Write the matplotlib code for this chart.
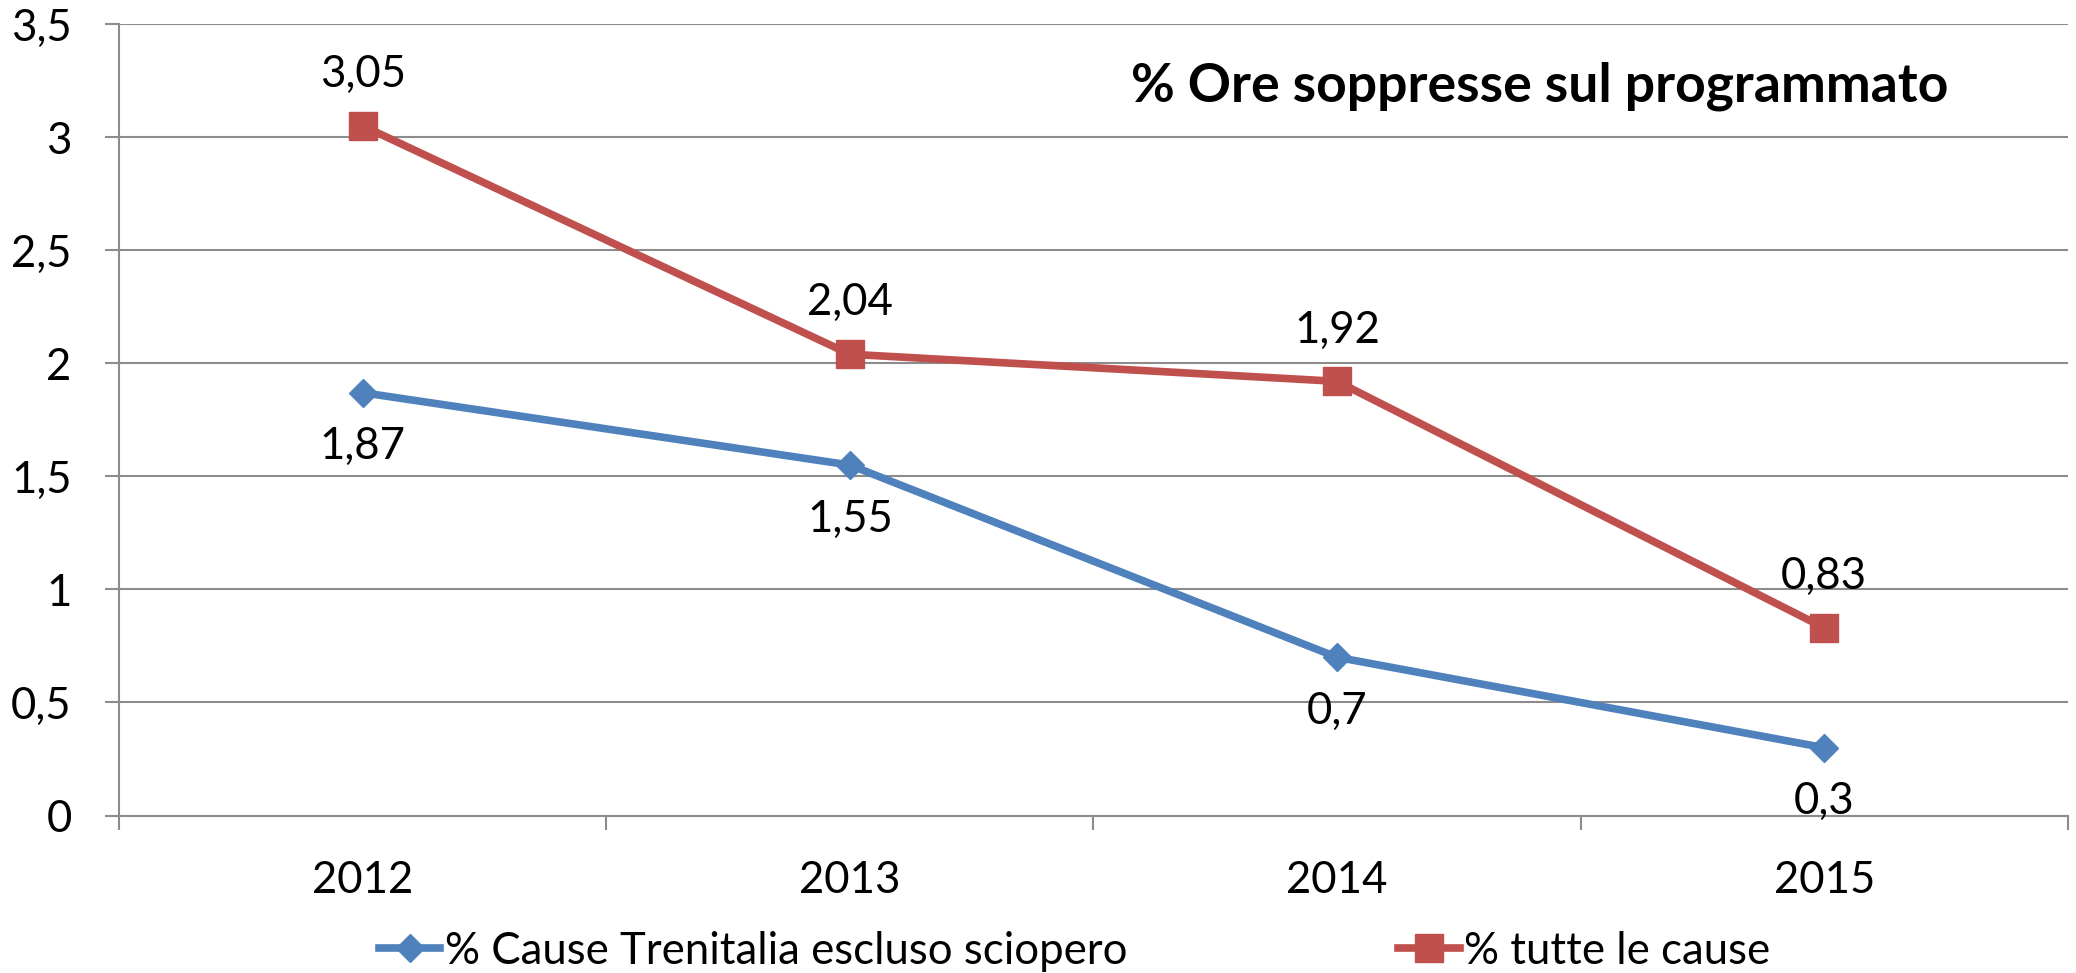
import matplotlib
matplotlib.use("Agg")
import matplotlib.pyplot as plt
from matplotlib.ticker import FuncFormatter, FixedLocator


years = ["2012", "2013", "2014", "2015"]
causeTrenitalia = [1.87, 1.55, 0.7, 0.3]
tutteCause = [3.05, 2.04, 1.92, 0.83]
yTicks = [0, 0.5, 1, 1.5, 2, 2.5, 3, 3.5]

titleText = "% Ore soppresse sul programmato"
blueLabel = "% Cause Trenitalia escluso sciopero"
redLabel = "% tutte le cause"

blueColor = "#4F81BD"
redColor = "#C0504D"
gridColor = "#8C8C8C"

plt.rcParams['font.family'] = ['Lato', 'DejaVu Sans']
textSize = 31.5


def itNumber(v):
    # Italian decimal comma
    return ("%g" % v).replace(".", ",")


def main():
    fig = plt.figure(figsize=(20.76, 9.73), dpi=100)
    ax = fig.add_axes([0.0573, 0.1618, 0.9961 - 0.0573, 0.9753 - 0.1618])

    xs = list(range(len(years)))

    ax.plot(xs, causeTrenitalia, color=blueColor, linewidth=5.5,
            marker="D", markersize=14, label=blueLabel, zorder=3)
    ax.plot(xs, tutteCause, color=redColor, linewidth=5.5,
            marker="s", markersize=19.5, label=redLabel, zorder=4)

    # data labels: blue below, red above
    for x, v in zip(xs, causeTrenitalia):
        ax.annotate(itNumber(v), (x, v), xytext=(0, -39),
                    textcoords="offset points", ha="center", va="center",
                    fontsize=textSize)
    for x, v in zip(xs, tutteCause):
        ax.annotate(itNumber(v), (x, v), xytext=(0, 37),
                    textcoords="offset points", ha="center", va="center",
                    fontsize=textSize)

    ax.set_xlim(-0.5, len(years) - 0.5)
    ax.set_ylim(0, 3.5)
    ax.set_yticks(yTicks)
    ax.yaxis.set_major_formatter(FuncFormatter(lambda v, p: itNumber(v)))

    # category labels at centres, tick marks at boundaries
    ax.set_xticks(xs)
    ax.set_xticklabels(years)
    ax.xaxis.set_minor_locator(FixedLocator([i - 0.5 for i in range(len(years) + 1)]))
    ax.tick_params(axis="x", which="major", length=0, pad=32, labelsize=textSize)
    ax.tick_params(axis="x", which="minor", length=10, width=1.5,
                   color=gridColor, direction="out")
    ax.tick_params(axis="y", which="major", length=10, width=1.5,
                   color=gridColor, direction="out", pad=24, labelsize=textSize)

    ax.grid(axis="y", color=gridColor, linewidth=1.5, zorder=0)
    ax.set_axisbelow(True)
    for side in ["top", "right"]:
        ax.spines[side].set_visible(False)
    for side in ["left", "bottom"]:
        ax.spines[side].set_color(gridColor)
        ax.spines[side].set_linewidth(1.5)

    ax.text(0.729, 0.922, titleText, transform=ax.transAxes, ha="center",
            va="center", fontsize=38.5, fontweight="bold")

    fig.legend(loc="center", bbox_to_anchor=(0.5176, 0.0226), ncol=2,
               frameon=False, fontsize=textSize, handlelength=1.4,
               handletextpad=0.1, columnspacing=6.2)

    fig.savefig("out.png", dpi=100)


if __name__ == "__main__":
    main()
